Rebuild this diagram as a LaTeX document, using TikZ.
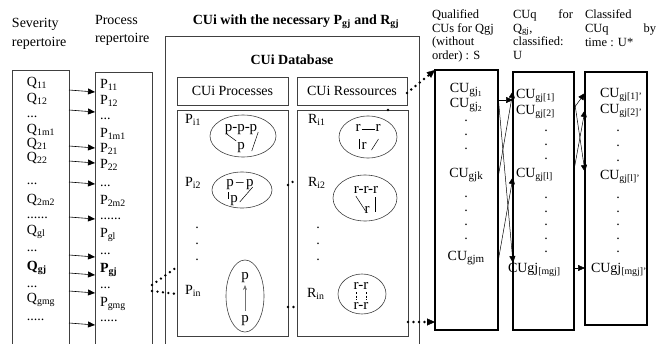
\documentclass[tikz,border=0pt]{standalone}
\usepackage{fontspec}
\setmainfont{Liberation Serif}
\usetikzlibrary{arrows.meta,calc,shapes.geometric}
\newcommand\fsM{\fontsize{14}{16}\selectfont}
\newcommand\fsH{\fontsize{12.5}{14}\selectfont}
\newcommand\fsE{\fontsize{15}{16}\selectfont}
\newcommand\msub[1]{\raisebox{-2.5pt}{\fontsize{11}{12}\selectfont #1}}
\begin{document}
\begin{tikzpicture}[x=1pt,y=-1pt,
  box/.style={draw=black!75, line width=0.8pt, inner sep=0pt, outer sep=0pt, anchor=north west},
  rbx/.style={box, draw=black, line width=1.1pt},
  it/.style={inner sep=0pt, outer sep=0pt, anchor=base west, font=\fsM},
  itc/.style={inner sep=0pt, outer sep=0pt, anchor=base, font=\fsM},
  hd/.style={inner sep=0pt, outer sep=0pt, anchor=base west, font=\fsH},
  hde/.style={hd, anchor=base east},
  arr/.style={-{Triangle[length=7pt,width=6pt]}, line width=0.6pt},
  dotl/.style={line width=2.6pt, line cap=round, dash pattern=on 0pt off 5.5pt},
  dotarr/.style={dotl, -{Triangle[length=8pt,width=7pt,line width=0.3pt]}},
  ell/.style={draw=black!75, line width=0.6pt, ellipse, inner sep=0pt},
  et/.style={inner sep=0pt, outer sep=0pt, anchor=base, font=\fsE},
  thn/.style={line width=0.5pt},
]
\useasboundingbox (0,0) rectangle (658,343);
\clip (0,0) rectangle (658,343);

% ---------- headers
\node[hd, font=\fsM] (h1a) at (12,27) {Severity};
\node[hd, font=\fsM] (h1b) at (12,46) {repertoire};
\node[hd, font=\fsM] (h2a) at (95,24) {Process};
\node[hd, font=\fsM] (h2b) at (95,42) {repertoire};
\node[itc, font=\fsM\bfseries] (title) at (296,24) {CUi with the necessary P\textsubscript{gj} and R\textsubscript{gj}};
\node[itc, font=\fsM\bfseries] (dbt) at (292,64) {CUi Database};

\node[hd] (q1) at (432,18) {Qualified};
\node[hd] (q2) at (432,32) {CUs for Qgj};
\node[hd] (q3) at (432,45) {(without};
\node[hd] (q4) at (432,59) {order) : S};

\node[hd] (u1) at (513,18) {CUq};
\node[hde] (u1b) at (573,18) {for};
\node[hd] (u2) at (513,32) {Q\textsubscript{gj},};
\node[hd] (u3) at (513,45) {classified:};
\node[hd] (u4) at (513,59) {U};

\node[hd] (c1) at (585,18) {Classifed};
\node[hd] (c2) at (585,32) {CUq};
\node[hde] (c2b) at (656,32) {by};
\node[hd] (c3) at (585,46) {time : U*};

% ---------- boxes
\node[box, minimum width=57, minimum height=300] (sev) at (12,70) {};
\node[box, minimum width=57, minimum height=300] (proc) at (95,72) {};
\node[box, minimum width=254, minimum height=330] (big) at (165,36) {};
\node[box, minimum width=111, minimum height=28, font=\fsM] (phdr) at (177,77) {CUi Processes};
\node[box, minimum width=110, minimum height=28, font=\fsM] (rhdr) at (297,77) {CUi Ressources};
\node[box, minimum width=111, minimum height=226] (pbox) at (177,110) {};
\node[box, minimum width=111, minimum height=226] (rbox) at (297,110) {};
\node[rbx, minimum width=63, minimum height=260] (qual) at (435,70) {};
\node[rbx, minimum width=61, minimum height=258] (cuq) at (513,72) {};
\node[rbx, minimum width=62, minimum height=253] (cls) at (585,72) {};

% ---------- severity list
\node[it] (s1) at (27,86) {Q\textsubscript{11}};
\node[it] (s2) at (27,102) {Q\textsubscript{12}};
\node[it] (s3) at (27,117) {...};
\node[it] (s4) at (27,133) {Q\textsubscript{1m1}};
\node[it] (s5) at (27,147) {Q\textsubscript{21}};
\node[it] (s6) at (27,161) {Q\textsubscript{22}};
\node[it] (s7) at (27,184) {...};
\node[it] (s8) at (27,203) {Q\textsubscript{2m2}};
\node[it] (s9) at (27,218) {......};
\node[it] (s10) at (27,234) {Q\textsubscript{gl}};
\node[it] (s11) at (27,251) {...};
\node[it] (s12) at (27,270) {\textbf{Q\textsubscript{gj}}};
\node[it] (s13) at (27,287) {...};
\node[it] (s14) at (27,302) {Q\textsubscript{gmg}};
\node[it] (s15) at (27,320) {.....};

% ---------- process list
\node[it] (r1) at (100,88) {P\textsubscript{11}};
\node[it] (r2) at (100,104) {P\textsubscript{12}};
\node[it] (r3) at (100,119) {...};
\node[it] (r4) at (100,137) {P\textsubscript{1m1}};
\node[it] (r5) at (100,152) {P\textsubscript{21}};
\node[it] (r6) at (100,168) {P\textsubscript{22}};
\node[it] (r7) at (100,186) {...};
\node[it] (r8) at (100,204) {P\textsubscript{2m2}};
\node[it] (r9) at (100,219) {......};
\node[it] (r10) at (100,237) {P\textsubscript{gl}};
\node[it] (r11) at (100,254) {...};
\node[it] (r12) at (100,272) {\textbf{P\textsubscript{gj}}};
\node[it] (r13) at (100,288) {...};
\node[it] (r14) at (100,306) {P\textsubscript{gmg}};
\node[it] (r15) at (100,321) {.....};

% ---------- arrows severity -> process
\foreach \ya/\yb [count=\i] in {90/92,110/112,146/148,161/163,182/184,217/219,255/257,273/275,291/293,323/325}{
  \coordinate (ta\i) at (0,\ya);
  \coordinate (tb\i) at (0,\yb);
  \draw[arr] (sev.east |- ta\i) -- (proc.west |- tb\i);
}

% ---------- processes content
\node[it] (pi1) at (185,123) {P\textsubscript{i1}};
\node[ell, minimum width=66, minimum height=42] (pe1) at (243,136) {};
\node[et] (pe1a) at (241,131) {p-p-p};
\node[et] (pe1b) at (241,149) {p};
\draw[thn] ($(pe1a.base west)+(2,3)$) -- ($(pe1b.base west)+(-1,-8)$);
\draw[thn] ($(pe1a.base east)+(1,1)$) -- ($(pe1b.base east)+(7,2)$);

\node[it] (pi2) at (185,186) {P\textsubscript{i2}};
\node[ell, minimum width=60, minimum height=36] (pe2) at (242,190) {};
\node[et] (pe2a) at (240,186) {p\,–\,p};
\node[et] (pe2b) at (234,202) {p};
\draw[thn] ($(pe2b.base west)+(-2,-10)$) -- ($(pe2b.base west)+(-2,-3)$);
\draw[thn] ($(pe2a.base east)+(-1,1)$) -- ($(pe2b.base east)+(2,0)$);

\node[itc] (pd1) at (197,228) {.};
\node[itc] (pd2) at (197,244) {.};
\node[itc] (pd3) at (197,260) {.};

\node[it] (pin) at (185,294) {P\textsubscript{in}};
\node[ell, minimum width=38, minimum height=72] (pe3) at (245,296) {};
\node[et] (pe3a) at (245,279) {p};
\node[et] (pe3b) at (245,322) {p};
\draw[line width=0.6pt, black!55, -{Stealth[length=5pt,width=4pt]}] ($(pe3b.north)+(0,-4)$) -- ($(pe3a.base)+(0,6)$);

% ---------- resources content
\node[it] (ri1) at (308,123) {R\textsubscript{i1}};
\node[ell, minimum width=58, minimum height=42] (re1) at (368,137) {};
\node[et] (re1a) at (358,131) {r};
\node[et] (re1b) at (378,131) {r};
\draw[thn] ($(re1a.base east)+(1,-1.5)$) -- ($(re1b.base west)+(-1,-1.5)$);
\node[et] (re1c) at (364,149) {r};
\draw[thn] ($(re1c.base west)+(-2,-10)$) -- ($(re1c.base west)+(-2,0)$);
\draw[thn] ($(re1c.base east)+(12,-10)$) -- ($(re1c.base east)+(5,1)$);

\node[it] (ri2) at (308,186) {R\textsubscript{i2}};
\node[ell, minimum width=64, minimum height=46] (re2) at (365,198) {};
\node[et] (re2a) at (366,193) {r-r-r};
\node[et] (re2b) at (367,213) {r};
\draw[thn] ($(re2a.base west)+(2,3)$) -- ($(re2b.base west)+(1,-2)$);
\draw[thn] ($(re2a.base east)+(-3,4)$) -- ($(re2a.base east)+(-3,19)$);

\node[itc] (rd1) at (318,228) {.};
\node[itc] (rd2) at (318,244) {.};
\node[itc] (rd3) at (318,260) {.};

\node[it] (rin) at (307,297) {R\textsubscript{in}};
\node[ell, minimum width=48, minimum height=40] (re3) at (362,294) {};
\node[et] (re3a) at (361,289) {r-r};
\node[et] (re3b) at (361,309) {r-r};
\draw[thn, dash pattern=on 2pt off 1.5pt] ($(re3a.base west)+(2.5,3)$) -- ($(re3b.base west)+(2.5,-9)$);
\draw[thn, dash pattern=on 2pt off 1.5pt] ($(re3a.base east)+(-2.5,3)$) -- ($(re3b.base east)+(-2.5,-9)$);

% ---------- qualified list
\node[itc] (g1) at (466,92) {CU\msub{gj\textsubscript{1}}};
\node[itc] (g2) at (466,107) {CU\msub{gj\textsubscript{2}}};
\node[itc] (g3) at (466,121) {.};
\node[itc] (g4) at (466,135) {.};
\node[itc] (g5) at (466,149) {.};
\node[itc] (g6) at (466,177) {CU\msub{gjk}};
\node[itc] (g7) at (466,197) {.};
\node[itc] (g8) at (466,211) {.};
\node[itc] (g9) at (466,225) {.};
\node[itc] (g10) at (466,239) {.};
\node[itc] (g11) at (466,260) {CU\msub{gjm}};

% ---------- CUq list
\node[it] (k1) at (516,98) {CU\textsubscript{gj[1]}};
\node[it] (k2) at (516,114) {CU\textsubscript{gj[2]}};
\node[itc] (k3) at (546,131) {.};
\node[itc] (k4) at (546,145) {.};
\node[itc] (k5) at (546,159) {.};
\node[it] (k6) at (516,177) {CU\textsubscript{gj[l]}};
\node[itc] (k7) at (546,198) {.};
\node[itc] (k8) at (546,212) {.};
\node[itc] (k9) at (546,225) {.};
\node[itc] (k10) at (546,239) {.};
\node[itc] (k11) at (546,252) {.};
\node[it] (k12) at (508,272) {CUgj\textsubscript{[mgj]}};

% ---------- classified list
\node[it] (l1) at (600,97) {CU\textsubscript{gj[1]'}};
\node[it] (l2) at (600,113) {CU\textsubscript{gj[2]'}};
\node[itc] (l3) at (618,131) {.};
\node[itc] (l4) at (618,146) {.};
\node[itc] (l5) at (618,161) {.};
\node[it] (l6) at (600,179) {CU\textsubscript{gj[l]'}};
\node[itc] (l7) at (618,198) {.};
\node[itc] (l8) at (618,212) {.};
\node[itc] (l9) at (618,225) {.};
\node[itc] (l10) at (618,239) {.};
\node[itc] (l11) at (618,252) {.};
\node[it] (l12) at (591,272) {CUgj\textsubscript{[mgj]'}};

% ---------- qualified -> CUq arrows
\foreach \ya/\yb [count=\i] in {100/100,178/91,262/177,95/263}{
  \coordinate (qa\i) at (0,\ya);
  \coordinate (qb\i) at (0,\yb);
  \draw[arr, line width=0.5pt] (qual.east |- qa\i) -- (cuq.west |- qb\i);
}
% ---------- CUq -> classified arrows
\foreach \ya/\yb [count=\i] in {108/93,170/110,98/172,268/268}{
  \coordinate (ca\i) at (0,\ya);
  \coordinate (cb\i) at (0,\yb);
  \draw[arr, line width=0.5pt] (cuq.east |- ca\i) -- (cls.west |- cb\i);
}

% ---------- dotted links
\coordinate (d1a) at (0,285); \coordinate (d1b) at (0,267);
\coordinate (d2a) at (0,291); \coordinate (d2b) at (0,294);
\draw[dotl] (proc.east |- d1a) -- (pbox.west |- d1b);
\draw[dotl] (proc.east |- d2a) -- (pbox.west |- d2b);
\coordinate (d3a) at (0,185); \coordinate (d3b) at (0,179);
\draw[dotl] (pbox.east |- d3a) -- (rbox.west |- d3b);
\coordinate (d4) at (0,307);
\draw[dotl] (pbox.east |- d4) -- (rbox.west |- d4);
\coordinate (d5) at (388,0);
\draw[dotl] (rbox.north -| d5) -- (rhdr.south -| d5);
\coordinate (d6a) at (0,93);
\draw[dotarr] (rhdr.east |- d6a) -- (qual.north west);
\coordinate (d7) at (0,322);
\draw[dotarr] (rbox.east |- d7) -- (qual.west |- d7);
\end{tikzpicture}
\end{document}
